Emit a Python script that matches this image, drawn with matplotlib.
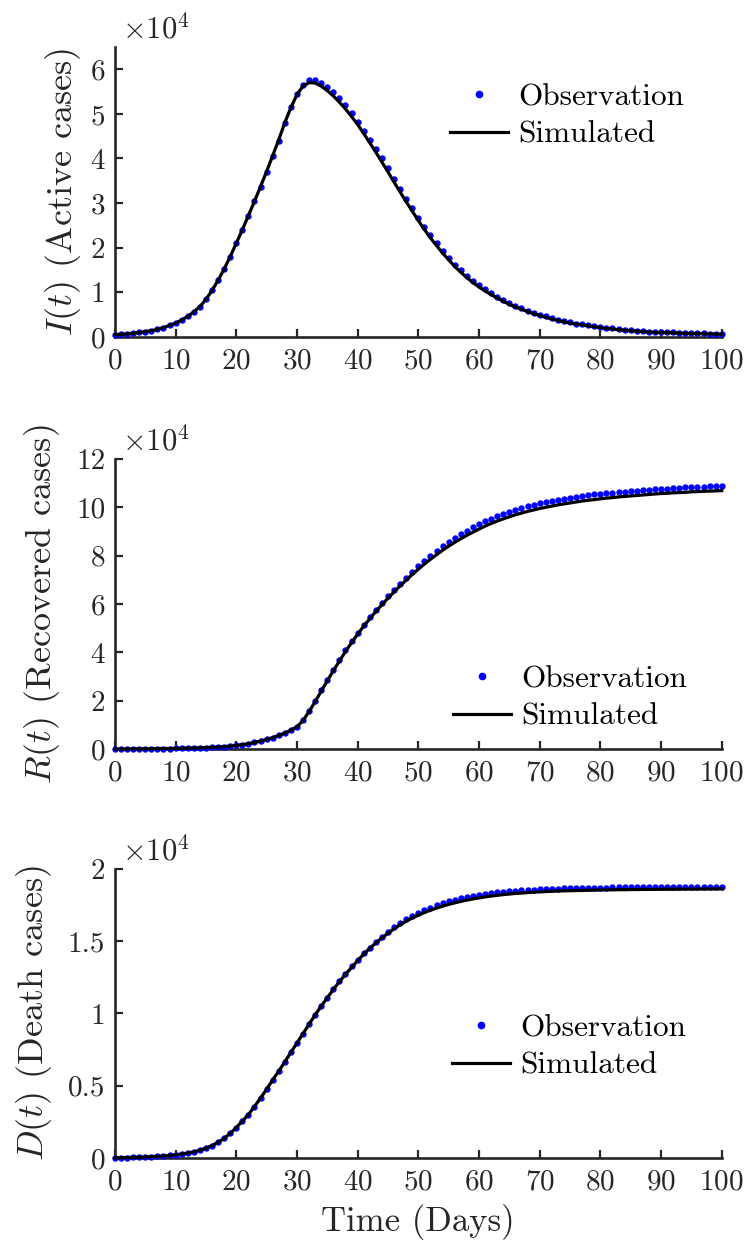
import matplotlib
matplotlib.use('Agg')
import matplotlib.pyplot as plt
from matplotlib.ticker import FuncFormatter

plt.rcParams.update({
    'font.family': 'serif',
    'font.serif': ['cmr10'],
    'mathtext.fontset': 'cm',
    'axes.formatter.use_mathtext': True,
    'axes.unicode_minus': False,
})

# values, in units of 1e4 cases
days = list(range(101))

I_obs = [0.05, 0.06, 0.07, 0.08, 0.10, 0.12, 0.14, 0.17, 0.21, 0.26,
         0.31, 0.38, 0.46, 0.56, 0.68, 0.85, 1.05, 1.28, 1.52, 1.80,
         2.10, 2.40, 2.72, 3.04, 3.37, 3.70, 4.05, 4.40, 4.80, 5.15,
         5.45, 5.65, 5.76, 5.76, 5.70, 5.60, 5.48, 5.35, 5.20, 5.02,
         4.82, 4.62, 4.42, 4.22, 4.00, 3.78, 3.55, 3.32, 3.10, 2.88,
         2.67, 2.47, 2.28, 2.10, 1.93, 1.77, 1.62, 1.49, 1.37, 1.26,
         1.16, 1.07, 0.98, 0.90, 0.83, 0.76, 0.70, 0.64, 0.59, 0.54,
         0.50, 0.46, 0.42, 0.39, 0.36, 0.33, 0.30, 0.28, 0.26, 0.24,
         0.22, 0.20, 0.19, 0.18, 0.16, 0.15, 0.14, 0.13, 0.12, 0.115,
         0.11, 0.105, 0.10, 0.095, 0.09, 0.087, 0.083, 0.08, 0.077, 0.074, 0.07]
I_sim = [0.05, 0.06, 0.07, 0.08, 0.10, 0.12, 0.14, 0.17, 0.21, 0.26,
         0.31, 0.38, 0.46, 0.56, 0.68, 0.84, 1.04, 1.27, 1.52, 1.80,
         2.10, 2.40, 2.72, 3.04, 3.37, 3.71, 4.06, 4.42, 4.80, 5.14,
         5.43, 5.62, 5.70, 5.69, 5.62, 5.52, 5.40, 5.26, 5.11, 4.94,
         4.76, 4.56, 4.35, 4.14, 3.92, 3.70, 3.47, 3.25, 3.03, 2.82,
         2.61, 2.41, 2.22, 2.05, 1.88, 1.73, 1.58, 1.45, 1.33, 1.22,
         1.12, 1.03, 0.95, 0.87, 0.80, 0.73, 0.67, 0.62, 0.57, 0.52,
         0.48, 0.44, 0.40, 0.37, 0.34, 0.31, 0.29, 0.27, 0.25, 0.23,
         0.21, 0.19, 0.18, 0.16, 0.15, 0.14, 0.13, 0.12, 0.11, 0.105,
         0.10, 0.095, 0.09, 0.085, 0.08, 0.077, 0.074, 0.071, 0.068, 0.065, 0.062]

R_obs = [0.00, 0.00, 0.00, 0.01, 0.01, 0.01, 0.01, 0.02, 0.02, 0.02,
         0.03, 0.03, 0.04, 0.04, 0.05, 0.06, 0.07, 0.08, 0.10, 0.12,
         0.15, 0.18, 0.22, 0.27, 0.33, 0.40, 0.47, 0.56, 0.66, 0.78,
         0.93, 1.20, 1.58, 2.00, 2.43, 2.86, 3.28, 3.69, 4.08, 4.45,
         4.80, 5.13, 5.45, 5.75, 6.04, 6.32, 6.58, 6.84, 7.09, 7.33,
         7.56, 7.78, 7.99, 8.19, 8.38, 8.56, 8.72, 8.88, 9.03, 9.17,
         9.30, 9.42, 9.53, 9.63, 9.72, 9.81, 9.89, 9.97, 10.04, 10.10,
         10.16, 10.21, 10.26, 10.31, 10.35, 10.39, 10.43, 10.47, 10.50, 10.53,
         10.56, 10.58, 10.61, 10.63, 10.65, 10.67, 10.69, 10.71, 10.72, 10.74,
         10.76, 10.77, 10.79, 10.80, 10.82, 10.83, 10.84, 10.86, 10.87, 10.88, 10.89]
R_sim = [0.00, 0.00, 0.00, 0.01, 0.01, 0.01, 0.01, 0.02, 0.02, 0.02,
         0.03, 0.03, 0.04, 0.04, 0.05, 0.06, 0.07, 0.08, 0.10, 0.12,
         0.15, 0.18, 0.22, 0.27, 0.33, 0.40, 0.47, 0.56, 0.66, 0.78,
         0.92, 1.18, 1.55, 1.96, 2.39, 2.82, 3.24, 3.64, 4.03, 4.40,
         4.75, 5.08, 5.39, 5.69, 5.97, 6.24, 6.50, 6.75, 6.99, 7.22,
         7.44, 7.65, 7.85, 8.04, 8.22, 8.39, 8.55, 8.70, 8.84, 8.97,
         9.10, 9.22, 9.33, 9.43, 9.52, 9.61, 9.69, 9.76, 9.83, 9.89,
         9.95, 10.00, 10.05, 10.10, 10.14, 10.18, 10.22, 10.26, 10.29, 10.32,
         10.35, 10.38, 10.40, 10.43, 10.45, 10.47, 10.49, 10.51, 10.53, 10.55,
         10.57, 10.58, 10.60, 10.61, 10.62, 10.64, 10.65, 10.66, 10.67, 10.68, 10.69]

D_obs = [0.000, 0.002, 0.003, 0.004, 0.005, 0.007, 0.009, 0.011, 0.014, 0.017,
         0.022, 0.027, 0.034, 0.042, 0.054, 0.068, 0.086, 0.108, 0.135, 0.170,
         0.210, 0.255, 0.300, 0.355, 0.415, 0.475, 0.540, 0.600, 0.665, 0.730,
         0.795, 0.860, 0.925, 0.990, 1.050, 1.110, 1.170, 1.225, 1.275, 1.325,
         1.370, 1.415, 1.455, 1.495, 1.530, 1.565, 1.595, 1.625, 1.650, 1.675,
         1.695, 1.715, 1.732, 1.748, 1.762, 1.775, 1.786, 1.796, 1.805, 1.813,
         1.820, 1.826, 1.832, 1.837, 1.841, 1.845, 1.849, 1.852, 1.855, 1.857,
         1.859, 1.861, 1.863, 1.864, 1.865, 1.866, 1.867, 1.868, 1.869, 1.870,
         1.871, 1.871, 1.872, 1.872, 1.873, 1.873, 1.874, 1.874, 1.874, 1.875,
         1.875, 1.875, 1.876, 1.876, 1.876, 1.877, 1.877, 1.877, 1.877, 1.878, 1.878]
D_sim = [0.000, 0.002, 0.003, 0.004, 0.005, 0.007, 0.009, 0.011, 0.014, 0.017,
         0.022, 0.027, 0.034, 0.042, 0.054, 0.068, 0.086, 0.108, 0.135, 0.170,
         0.210, 0.255, 0.300, 0.355, 0.415, 0.475, 0.540, 0.600, 0.665, 0.730,
         0.795, 0.860, 0.925, 0.990, 1.050, 1.108, 1.166, 1.220, 1.270, 1.318,
         1.365, 1.410, 1.450, 1.488, 1.522, 1.555, 1.585, 1.613, 1.638, 1.660,
         1.680, 1.698, 1.714, 1.729, 1.742, 1.754, 1.765, 1.775, 1.784, 1.792,
         1.799, 1.806, 1.812, 1.817, 1.822, 1.826, 1.830, 1.833, 1.836, 1.839,
         1.841, 1.843, 1.845, 1.847, 1.848, 1.849, 1.850, 1.851, 1.852, 1.853,
         1.854, 1.855, 1.855, 1.856, 1.856, 1.857, 1.857, 1.858, 1.858, 1.858,
         1.859, 1.859, 1.859, 1.860, 1.860, 1.860, 1.860, 1.861, 1.861, 1.861, 1.862]

panels = [
    (I_obs, I_sim, r'$I(t)$ (Active cases)', 6.5, [0, 1, 2, 3, 4, 5, 6], (0.552, 0.762), -0.052),
    (R_obs, R_sim, r'$R(t)$ (Recovered cases)', 12, [0, 2, 4, 6, 8, 10, 12], (0.557, 0.176), -0.088),
    (D_obs, D_sim, r'$D(t)$ (Death cases)', 2, [0, 0.5, 1, 1.5, 2], (0.555, 0.384), -0.100),
]
# axes rectangles [left, bottom, width, height] in figure fraction
rects = [[0.153, 0.7313, 0.808, 0.2313],
         [0.153, 0.4027, 0.808, 0.2313],
         [0.153, 0.0766, 0.808, 0.2305]]

fig = plt.figure(figsize=(7.51, 12.54), dpi=100)
grey = '#262626'

for (obs, sim, ylab, ytop, yt, leg_xy, ylab_x), rect in zip(panels, rects):
    ax = fig.add_axes(rect)
    ax.plot(days, obs, 'o', color='#0000ff', markersize=4.6, markeredgewidth=0,
            label='Observation', clip_on=False, zorder=3)
    ax.plot(days, sim, '-', color='black', linewidth=2.3, label='Simulated',
            clip_on=False, zorder=4)

    ax.set_xlim(0, 100)
    ax.set_ylim(0, ytop)
    ax.set_xticks(range(0, 101, 10))
    ax.set_yticks(yt)
    ax.yaxis.set_major_formatter(FuncFormatter(lambda v, p: f'{v:g}'))
    for s in ['top', 'right']:
        ax.spines[s].set_visible(False)
    for s in ['left', 'bottom']:
        ax.spines[s].set_linewidth(1.9)
        ax.spines[s].set_color(grey)
    ax.tick_params(direction='in', length=6, width=1.6, color=grey,
                   labelsize=21, labelcolor=grey)
    ax.tick_params(axis='y', pad=7)
    ax.tick_params(axis='x', pad=8)

    ax.set_ylabel(ylab, fontsize=26, color=grey)
    ax.yaxis.set_label_coords(ylab_x, 0.5)
    ax.text(0.012, 1.008, r'$\times10^{4}$', transform=ax.transAxes,
            ha='left', va='bottom', fontsize=22, color=grey)

    ax.legend(loc='center left', bbox_to_anchor=leg_xy, frameon=False,
              fontsize=22.5, handlelength=1.86, handletextpad=0.32,
              labelspacing=0.3, borderpad=0, borderaxespad=0, numpoints=1,
              markerscale=1.2)

ax.set_xlabel('Time (Days)', fontsize=25, color=grey, labelpad=6)

fig.savefig('out.png', dpi=100)
